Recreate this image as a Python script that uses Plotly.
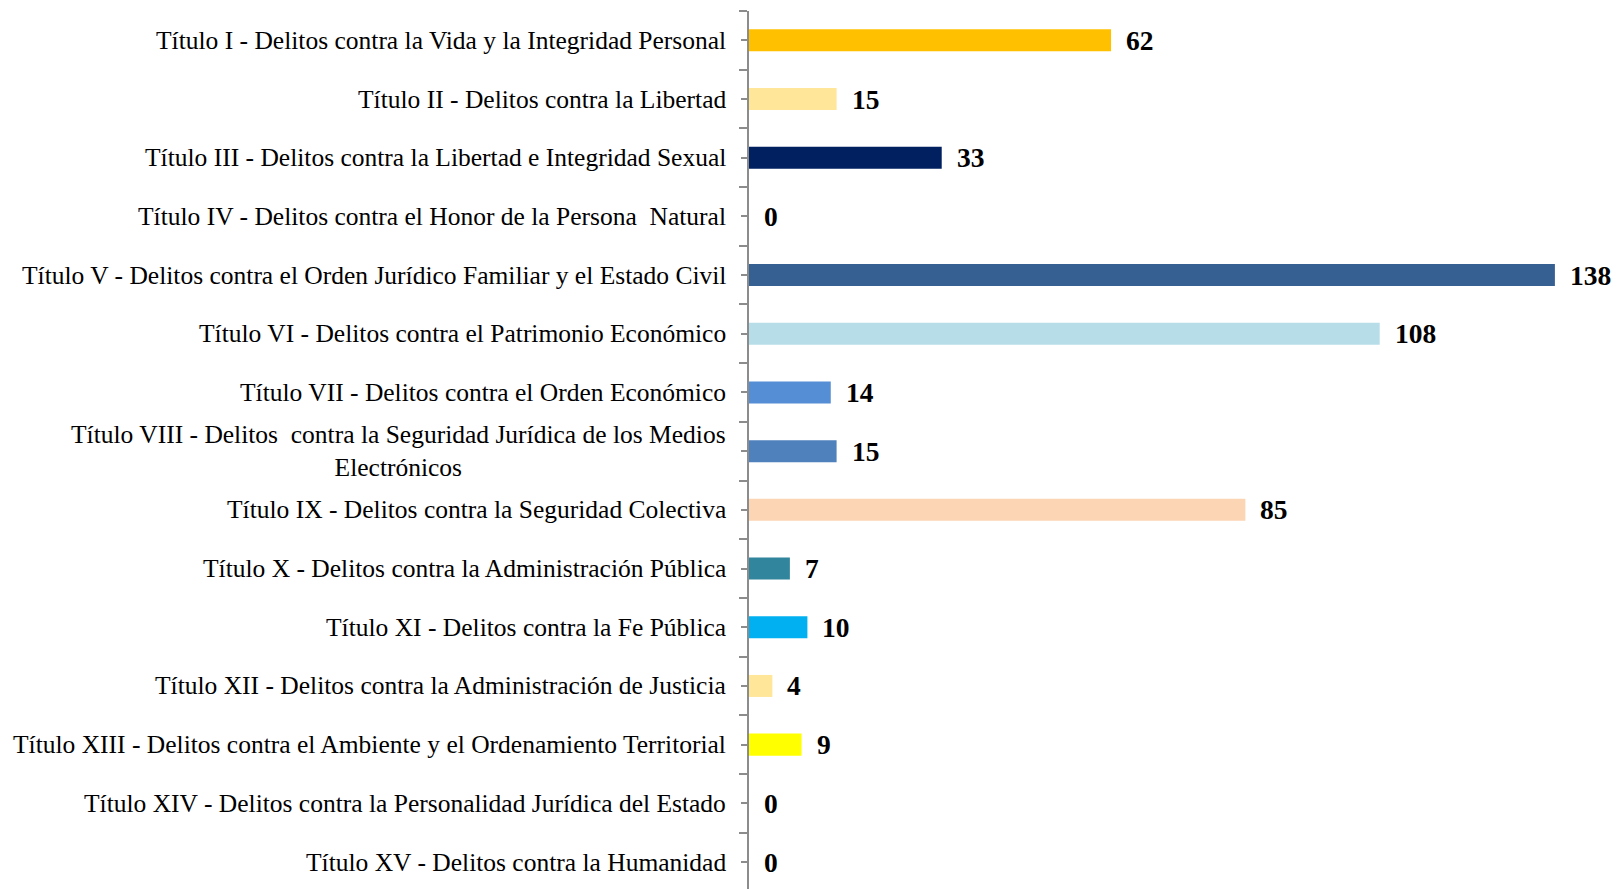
import plotly.graph_objects as go

categories = [
    "Título I - Delitos contra la Vida y la Integridad Personal",
    "Título II - Delitos contra la Libertad",
    "Título III - Delitos contra la Libertad e Integridad Sexual",
    "Título IV - Delitos contra el Honor de la Persona  Natural",
    "Título V - Delitos contra el Orden Jurídico Familiar y el Estado Civil",
    "Título VI - Delitos contra el Patrimonio Económico",
    "Título VII - Delitos contra el Orden Económico",
    "Título VIII - Delitos  contra la Seguridad Jurídica de los Medios<br>Electrónicos",
    "Título IX - Delitos contra la Seguridad Colectiva",
    "Título X - Delitos contra la Administración Pública",
    "Título XI - Delitos contra la Fe Pública",
    "Título XII - Delitos contra la Administración de Justicia",
    "Título XIII - Delitos contra el Ambiente y el Ordenamiento Territorial",
    "Título XIV - Delitos contra la Personalidad Jurídica del Estado",
    "Título XV - Delitos contra la Humanidad",
]
values = [62, 15, 33, 0, 138, 108, 14, 15, 85, 7, 10, 4, 9, 0, 0]
colors = ["#FFC000", "#FFE699", "#002060", "#FFFFFF", "#376092", "#B7DEE8",
          "#558ED5", "#4F81BD", "#FCD5B5", "#31859C", "#00B0F0", "#FFE699",
          "#FFFF00", "#FFFFFF", "#FFFFFF"]

positions = list(range(len(categories)))

fig = go.Figure()
fig.add_trace(go.Bar(
    x=values, y=positions, orientation="h",
    marker=dict(color=colors, line=dict(width=0)),
    width=0.375, hoverinfo="skip",
))

SERIF = "Liberation Serif"
annotations = []
for p, c in zip(positions, categories):
    annotations.append(dict(
        x=0, y=p, xref="x", yref="y", text=c, showarrow=False,
        xanchor="right", yanchor="middle", align="center", xshift=-21,
        font=dict(family=SERIF, size=25.5, color="#000000"),
    ))
for p, v in zip(positions, values):
    annotations.append(dict(
        x=v, y=p, xref="x", yref="y", text="<b>%d</b>" % v, showarrow=False,
        xanchor="left", yanchor="middle", xshift=13,
        font=dict(family=SERIF, size=27.5, color="#000000"),
    ))

fig.update_layout(
    width=1615, height=881,
    margin=dict(l=741, r=0, t=3, b=0),
    paper_bgcolor="white", plot_bgcolor="white",
    showlegend=False,
    annotations=annotations,
    xaxis=dict(range=[0, 149.66], visible=False, showgrid=False, zeroline=False),
    yaxis=dict(
        range=[14.46, -0.5], showgrid=False, zeroline=False,
        showline=True, linecolor="#8C8C8C", linewidth=2,
        tickvals=positions, ticktext=[""] * len(positions),
        ticks="outside", ticklen=6, tickcolor="#8C8C8C", tickwidth=1.5,
        minor=dict(tickvals=[p - 0.5 for p in positions] + [14.5], ticks="outside",
                   ticklen=8, tickcolor="#8C8C8C", tickwidth=1.5),
        showticklabels=False,
    ),
)

fig.write_html("out.html")
